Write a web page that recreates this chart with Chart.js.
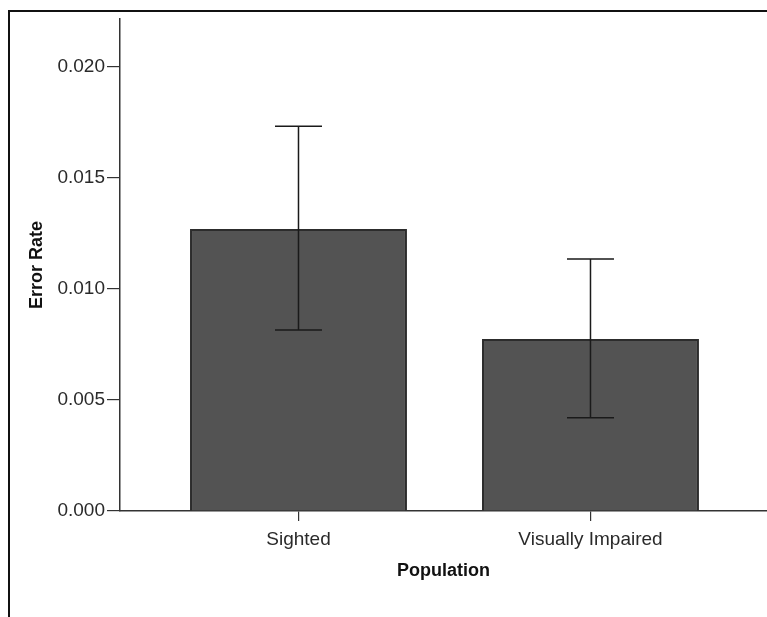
<!DOCTYPE html>
<html>
<head>
<meta charset="utf-8">
<script src="https://cdn.jsdelivr.net/npm/chart.js@4/dist/chart.umd.min.js"></script>
<style>
  html, body { margin: 0; padding: 0; background: #fff; }
  #wrap { position: relative; width: 767px; height: 617px; overflow: hidden; }
  #frame { position: absolute; left: 8px; top: 10px; width: 800px; height: 700px;
           border-left: 2px solid #111; border-top: 2px solid #111; pointer-events: none; }
  canvas { position: absolute; left: 0; top: 0; }
</style>
</head>
<body>
<div id="wrap">
  <canvas id="c" width="767" height="617"></canvas>
  <div id="frame"></div>
</div>
<script>
// ---- data ----
const categories = ['Sighted', 'Visually Impaired'];
const errorRate = [0.0127, 0.00775];
const ciLower = [0.00815, 0.0042];
const ciUpper = [0.01733, 0.01135];
const yTicks = [0.000, 0.005, 0.010, 0.015, 0.020];

const errorBars = {
  id: 'errorBars',
  afterDatasetsDraw(chart) {
    const ctx = chart.ctx;
    const xs = chart.scales.x, ys = chart.scales.y;
    ctx.save();
    ctx.strokeStyle = '#1a1a1a';
    ctx.lineWidth = 1.5;
    const cap = 23.5;
    categories.forEach((c, i) => {
      const x = xs.getPixelForValue(i + 1);
      const yl = ys.getPixelForValue(ciLower[i]);
      const yu = ys.getPixelForValue(ciUpper[i]);
      ctx.beginPath();
      ctx.moveTo(x, yl); ctx.lineTo(x, yu);
      ctx.moveTo(x - cap, yu); ctx.lineTo(x + cap, yu);
      ctx.moveTo(x - cap, yl); ctx.lineTo(x + cap, yl);
      ctx.stroke();
    });
    ctx.restore();
  }
};

const tickFont = { family: '"Liberation Sans", Arial, sans-serif', size: 19 };
const titleFont = { family: '"Liberation Sans", Arial, sans-serif', size: 18, weight: 'bold' };

new Chart(document.getElementById('c'), {
  type: 'bar',
  data: {
    datasets: [{
      data: categories.map((c, i) => ({ x: i + 1, y: errorRate[i] })),
      backgroundColor: '#535353',
      borderColor: '#2c2c2c',
      borderWidth: 2,
      categoryPercentage: 1.0,
      barPercentage: 0.743
    }]
  },
  options: {
    responsive: false,
    animation: false,
    layout: { padding: { top: 19, right: 0, bottom: 0, left: 0 } },
    plugins: { legend: { display: false }, tooltip: { enabled: false } },
    scales: {
      x: {
        type: 'linear',
        offset: false,
        min: 0.3887,
        max: 2.6045,
        afterBuildTicks: (s) => { s.ticks = categories.map((c, i) => ({ value: i + 1 })); },
        afterFit: (s) => { s.height = 106; },
        grid: { display: true, drawOnChartArea: false, drawTicks: true, tickLength: 10, color: '#333', lineWidth: 1.2, offset: false },
        border: { display: true, color: '#333', width: 1.5 },
        ticks: {
          font: tickFont, color: '#2a2a2a', padding: 7, maxRotation: 0, autoSkip: false,
          callback: (v) => categories[Math.round(v) - 1] || ''
        },
        title: { display: true, text: 'Population', font: titleFont, color: '#111', padding: { top: 0, bottom: 35 } }
      },
      y: {
        min: 0,
        max: 0.02216,
        afterBuildTicks: (s) => { s.ticks = yTicks.map(v => ({ value: v })); },
        afterFit: (s) => { s.width = 120; },
        grid: { display: true, drawOnChartArea: false, drawTicks: true, tickLength: 13, color: '#333', lineWidth: 1.2 },
        border: { display: true, color: '#333', width: 1.5 },
        ticks: {
          font: tickFont, color: '#2a2a2a', padding: 2,
          callback: (v) => Number(v).toFixed(3)
        },
        title: { display: true, text: 'Error Rate', font: titleFont, color: '#111', padding: { top: 26, bottom: 0 } }
      }
    }
  },
  plugins: [errorBars]
});
</script>
</body>
</html>
